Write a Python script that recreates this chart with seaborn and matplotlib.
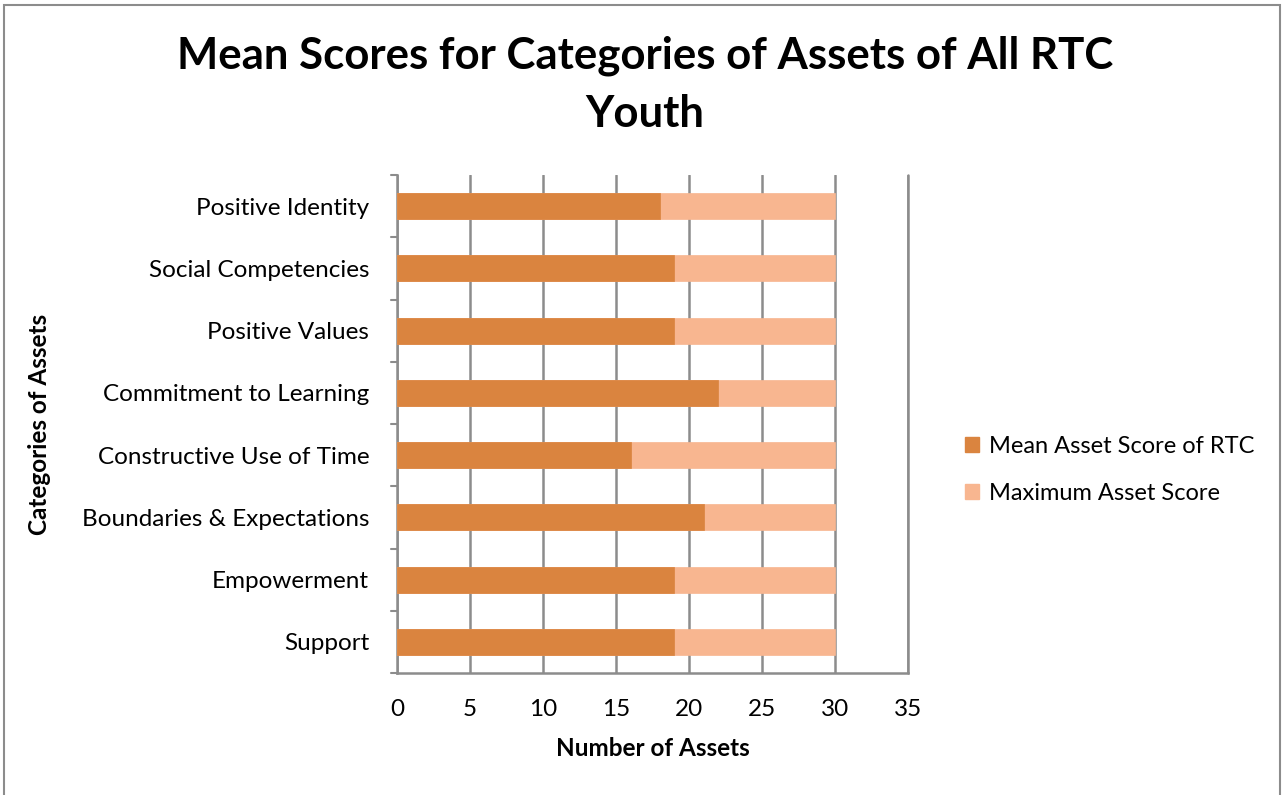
import matplotlib
matplotlib.use("Agg")
import matplotlib.pyplot as plt
import seaborn as sns
import pandas as pd
from matplotlib.patches import Rectangle, Patch

categories = ["Positive Identity", "Social Competencies", "Positive Values",
              "Commitment to Learning", "Constructive Use of Time",
              "Boundaries & Expectations", "Empowerment", "Support"]
mean_scores = [18, 19, 19, 22, 16, 21, 19, 19]
max_scores = [30, 30, 30, 30, 30, 30, 30, 30]
x_ticks = [0, 5, 10, 15, 20, 25, 30, 35]

sns.set_theme(style="white")
plt.rcParams['font.family'] = ['Lato', 'DejaVu Sans']
plt.rcParams['text.color'] = 'black'
plt.rcParams['axes.labelcolor'] = 'black'
plt.rcParams['xtick.color'] = 'black'
plt.rcParams['ytick.color'] = 'black'

df = pd.DataFrame({"category": categories, "mean": mean_scores, "max": max_scores})

fig = plt.figure(figsize=(12.84, 7.95), dpi=100)
ax = fig.add_axes([397/1284, 1-673/795, (908-397)/1284, (673-175)/795])

dark = "#DA843F"
light = "#F8B690"
sns.barplot(data=df, y="category", x="max", orient="h", color=light, width=0.42,
            ax=ax, saturation=1, zorder=3, edgecolor=light, linewidth=0.5)
sns.barplot(data=df, y="category", x="mean", orient="h", color=dark, width=0.42,
            ax=ax, saturation=1, zorder=4, edgecolor=dark, linewidth=0.5)

ax.set_xlim(0, 35)
ax.set_xticks(x_ticks)
ax.set_xticklabels([str(t) for t in x_ticks], fontsize=17.5)
ax.set_ylim(7.5, -0.5)
ax.set_yticks(range(len(categories)))
ax.set_yticklabels(categories, fontsize=17.5)
ax.tick_params(axis='y', length=0, pad=20)
ax.tick_params(axis='x', length=7, width=1.5, color="#8C8C8C", direction='out', pad=12,
               labelcolor="black")
ax.xaxis.grid(True, color="#8C8C8C", linewidth=1.8, zorder=0)
ax.set_axisbelow(True)
ax.axvline(35, color="#8C8C8C", linewidth=1.8, clip_on=False, zorder=1)

# y boundary ticks
for b in [i - 0.5 for i in range(len(categories) + 1)]:
    ax.plot([-0.012, 0], [b, b], transform=ax.get_yaxis_transform(), color="#8C8C8C",
            lw=1.5, clip_on=False)

for s in ["top", "right"]:
    ax.spines[s].set_visible(False)
for s in ["left", "bottom"]:
    ax.spines[s].set_color("#8C8C8C")
    ax.spines[s].set_linewidth(1.8)

ax.set_xlabel("Number of Assets", fontsize=17.5, fontweight="bold")
ax.xaxis.set_label_coords(0.5, -(737 - 673) / 498)
ax.set_ylabel("Categories of Assets", fontsize=17.5, fontweight="bold")
ax.yaxis.set_label_coords(-(397 - 51) / 511, 0.5)

fig.text(645/1284, 1-56/795, "Mean Scores for Categories of Assets of All RTC",
         ha="center", va="center", fontsize=31.5, fontweight="bold")
fig.text(645/1284, 1-114/795, "Youth", ha="center", va="center",
         fontsize=31.5, fontweight="bold")

handles = [Patch(color=dark, label="Mean Asset Score of RTC"),
           Patch(color=light, label="Maximum Asset Score")]
fig.legend(handles=handles, loc="center left", bbox_to_anchor=(944/1284, 1-470/795),
           frameon=False, fontsize=17, handlelength=0.6, handleheight=0.6,
           handletextpad=0.4, labelspacing=1.1)

fig.patches.append(Rectangle((4/1284, -0.02), 1276/1284, 1-5/795 + 0.02,
                             transform=fig.transFigure, fill=False,
                             edgecolor="#8C8C8C", linewidth=1.5))

fig.savefig("out.png", dpi=100)
